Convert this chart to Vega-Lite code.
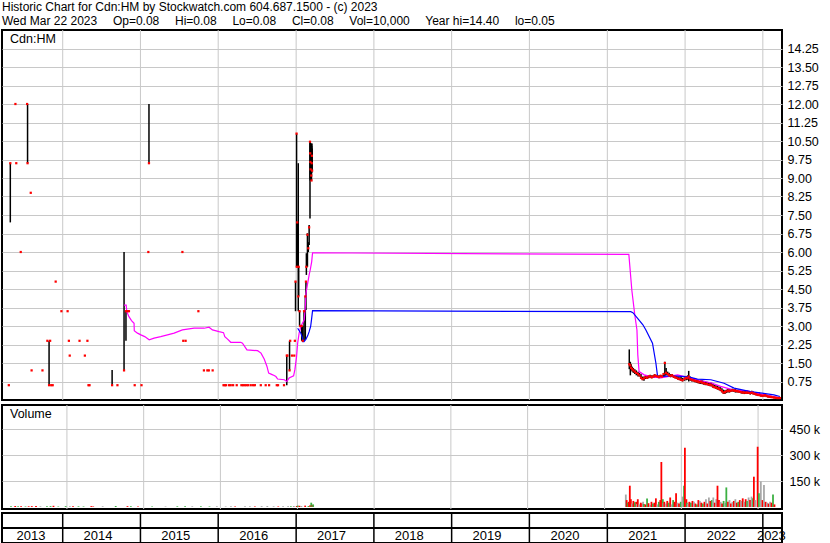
{
"$schema": "https://vega.github.io/schema/vega-lite/v6.json",
"background": "white",
"padding": {"left": 0, "top": 0, "right": 0, "bottom": 0},
"title": {"text": ["Historic Chart for Cdn:HM by Stockwatch.com 604.687.1500 - (c) 2023", "Wed Mar 22 2023\u00a0\u00a0\u00a0\u2009 Op=0.08\u00a0\u00a0\u00a0\u2009 Hi=0.08\u00a0\u00a0\u00a0\u2009 Lo=0.08\u00a0\u00a0\u00a0\u2009 Cl=0.08\u00a0\u00a0\u00a0\u2009 Vol=10,000\u00a0\u00a0\u00a0\u2009 Year hi=14.40\u00a0\u00a0\u00a0\u2009 lo=0.05"], "anchor": "start", "frame": "bounds", "font": "Liberation Sans", "fontSize": 12, "fontWeight": "normal", "lineHeight": 14, "offset": 1, "dx": 2, "color": "black"},
"config": {
  "view": {"stroke": "black", "strokeWidth": 2},
  "font": "Liberation Sans",
  "axis": {"gridColor": "#c8c8c8", "gridWidth": 1, "labelFont": "Liberation Sans", "labelColor": "black", "labelFontSize": 12.5, "domain": false, "ticks": false, "labelOverlap": false}
},
"datasets": {
  "ohlc": [
    {"d":"2013-04-23","h":0.6,"l":0.6,"c":0.6},
    {"d":"2013-04-30","h":9.6,"l":7.2,"c":9.6},
    {"d":"2013-05-24","h":12.0,"l":12.0,"c":12.0},
    {"d":"2013-05-28","h":9.6,"l":9.6,"c":9.6},
    {"d":"2013-06-18","h":6.0,"l":6.0,"c":6.0},
    {"d":"2013-07-18","h":12.0,"l":12.0,"c":12.0},
    {"d":"2013-07-20","h":12.0,"l":9.6,"c":9.6},
    {"d":"2013-08-04","h":8.4,"l":8.4,"c":8.4},
    {"d":"2013-08-08","h":1.2,"l":1.2,"c":1.2},
    {"d":"2013-09-28","h":1.2,"l":1.2,"c":1.2},
    {"d":"2013-10-21","h":2.4,"l":2.4,"c":2.4},
    {"d":"2013-10-29","h":2.4,"l":0.6,"c":0.6},
    {"d":"2013-11-03","h":2.4,"l":2.4,"c":2.4},
    {"d":"2013-11-08","h":0.6,"l":0.6,"c":0.6},
    {"d":"2013-11-15","h":0.6,"l":0.6,"c":0.6},
    {"d":"2013-11-29","h":4.8,"l":4.8,"c":4.8},
    {"d":"2013-12-26","h":3.6,"l":3.6,"c":3.6},
    {"d":"2014-01-24","h":3.6,"l":3.6,"c":3.6},
    {"d":"2014-01-30","h":2.4,"l":2.4,"c":2.4},
    {"d":"2014-02-03","h":1.8,"l":1.8,"c":1.8},
    {"d":"2014-03-21","h":2.4,"l":2.4,"c":2.4},
    {"d":"2014-04-15","h":1.8,"l":1.8,"c":1.8},
    {"d":"2014-04-27","h":2.4,"l":2.4,"c":2.4},
    {"d":"2014-05-02","h":0.6,"l":0.6,"c":0.6},
    {"d":"2014-05-07","h":0.6,"l":0.6,"c":0.6},
    {"d":"2014-08-21","h":1.22,"l":0.6,"c":0.6},
    {"d":"2014-09-15","h":0.6,"l":0.6,"c":0.6},
    {"d":"2014-10-16","h":6.0,"l":1.2,"c":1.2},
    {"d":"2014-10-25","h":3.6,"l":2.4,"c":3.6},
    {"d":"2014-11-01","h":3.6,"l":3.6,"c":3.6},
    {"d":"2014-11-08","h":3.6,"l":3.6,"c":3.6},
    {"d":"2014-12-05","h":0.6,"l":0.6,"c":0.6},
    {"d":"2015-01-06","h":0.6,"l":0.6,"c":0.6},
    {"d":"2015-02-07","h":6.0,"l":6.0,"c":6.0},
    {"d":"2015-02-10","h":12.0,"l":9.6,"c":9.6},
    {"d":"2015-07-17","h":6.0,"l":6.0,"c":6.0},
    {"d":"2015-07-21","h":2.4,"l":2.4,"c":2.4},
    {"d":"2015-08-01","h":2.4,"l":2.4,"c":2.4},
    {"d":"2015-09-30","h":3.6,"l":3.6,"c":3.6},
    {"d":"2015-10-26","h":1.2,"l":1.2,"c":1.2},
    {"d":"2015-11-11","h":1.2,"l":1.2,"c":1.2},
    {"d":"2015-11-18","h":1.2,"l":1.2,"c":1.2},
    {"d":"2015-12-06","h":1.2,"l":1.2,"c":1.2},
    {"d":"2016-01-26","h":0.6,"l":0.6,"c":0.6},
    {"d":"2016-02-01","h":0.6,"l":0.6,"c":0.6},
    {"d":"2016-02-07","h":0.6,"l":0.6,"c":0.6},
    {"d":"2016-02-21","h":0.6,"l":0.6,"c":0.6},
    {"d":"2016-02-29","h":0.6,"l":0.6,"c":0.6},
    {"d":"2016-03-11","h":0.6,"l":0.6,"c":0.6},
    {"d":"2016-03-28","h":0.6,"l":0.6,"c":0.6},
    {"d":"2016-04-19","h":0.6,"l":0.6,"c":0.6},
    {"d":"2016-04-27","h":0.6,"l":0.6,"c":0.6},
    {"d":"2016-05-05","h":0.6,"l":0.6,"c":0.6},
    {"d":"2016-05-13","h":0.6,"l":0.6,"c":0.6},
    {"d":"2016-05-21","h":0.6,"l":0.6,"c":0.6},
    {"d":"2016-06-02","h":0.6,"l":0.6,"c":0.6},
    {"d":"2016-06-13","h":0.6,"l":0.6,"c":0.6},
    {"d":"2016-06-21","h":0.6,"l":0.6,"c":0.6},
    {"d":"2016-07-19","h":0.6,"l":0.6,"c":0.6},
    {"d":"2016-08-11","h":0.6,"l":0.6,"c":0.6},
    {"d":"2016-08-27","h":0.6,"l":0.6,"c":0.6},
    {"d":"2016-10-02","h":0.6,"l":0.6,"c":0.6},
    {"d":"2016-10-08","h":0.6,"l":0.6,"c":0.6},
    {"d":"2016-11-05","h":0.6,"l":0.6,"c":0.6},
    {"d":"2016-11-18","h":1.8,"l":0.6,"c":1.8},
    {"d":"2016-11-21","h":1.8,"l":1.8,"c":1.8},
    {"d":"2016-12-01","h":2.4,"l":1.2,"c":1.2},
    {"d":"2016-12-04","h":2.4,"l":2.4,"c":2.4},
    {"d":"2016-12-12","h":1.8,"l":1.8,"c":1.8},
    {"d":"2016-12-23","h":1.8,"l":1.8,"c":1.8},
    {"d":"2016-12-26","h":2.4,"l":2.4,"c":2.4},
    {"d":"2016-12-29","h":4.8,"l":3.6,"c":4.8},
    {"d":"2017-01-03","h":10.8,"l":5.4,"c":10.8},
    {"d":"2017-01-04","h":7.2,"l":5.4,"c":5.4},
    {"d":"2017-01-06","h":7.2,"l":5.4,"c":7.2},
    {"d":"2017-01-11","h":9.6,"l":3.6,"c":4.2},
    {"d":"2017-01-13","h":5.4,"l":4.2,"c":5.4},
    {"d":"2017-01-17","h":3.6,"l":3.0,"c":3.6},
    {"d":"2017-01-20","h":3.0,"l":3.0,"c":3.0},
    {"d":"2017-01-27","h":3.0,"l":2.4,"c":3.0},
    {"d":"2017-02-01","h":3.0,"l":2.37,"c":2.4},
    {"d":"2017-02-07","h":3.6,"l":2.4,"c":3.6},
    {"d":"2017-02-13","h":4.2,"l":2.44,"c":4.2},
    {"d":"2017-02-16","h":4.8,"l":3.65,"c":4.8},
    {"d":"2017-02-18","h":5.95,"l":5.07,"c":5.4},
    {"d":"2017-02-23","h":6.76,"l":5.4,"c":6.7},
    {"d":"2017-02-27","h":6.4,"l":6.0,"c":6.15},
    {"d":"2017-03-03","h":7.09,"l":6.28,"c":7.0},
    {"d":"2017-03-07","h":10.47,"l":7.36,"c":10.47},
    {"d":"2017-03-08","h":10.47,"l":8.9,"c":10.0},
    {"d":"2017-03-09","h":10.4,"l":8.95,"c":9.65},
    {"d":"2017-03-10","h":10.3,"l":9.0,"c":9.35},
    {"d":"2017-03-13","h":10.2,"l":8.95,"c":9.1},
    {"d":"2017-03-14","h":10.4,"l":8.9,"c":8.9},
    {"d":"2017-03-15","h":10.3,"l":9.2,"c":9.6},
    {"d":"2017-03-16","h":10.4,"l":9.4,"c":9.9},
    {"d":"2017-03-17","h":10.2,"l":9.3,"c":9.3},
    {"d":"2021-04-14","h":2.05,"l":1.25,"c":1.45},
    {"d":"2021-04-19","h":1.55,"l":1.0,"c":1.4},
    {"d":"2021-04-23","h":1.45,"l":1.2,"c":1.3},
    {"d":"2021-04-28","h":1.35,"l":1.15,"c":1.25},
    {"d":"2021-05-03","h":1.3,"l":1.1,"c":1.2},
    {"d":"2021-05-10","h":1.25,"l":1.05,"c":1.15},
    {"d":"2021-05-17","h":1.2,"l":1.0,"c":1.1},
    {"d":"2021-05-25","h":1.15,"l":0.95,"c":1.05},
    {"d":"2021-06-01","h":1.1,"l":0.95,"c":1.0},
    {"d":"2021-06-08","h":1.05,"l":0.85,"c":0.9},
    {"d":"2021-06-15","h":0.95,"l":0.8,"c":0.85},
    {"d":"2021-06-22","h":0.95,"l":0.78,"c":0.88},
    {"d":"2021-06-29","h":1.0,"l":0.85,"c":0.92},
    {"d":"2021-07-07","h":0.98,"l":0.85,"c":0.9},
    {"d":"2021-07-14","h":1.0,"l":0.88,"c":0.95},
    {"d":"2021-07-21","h":1.02,"l":0.9,"c":0.96},
    {"d":"2021-07-28","h":1.0,"l":0.88,"c":0.92},
    {"d":"2021-08-04","h":1.0,"l":0.9,"c":0.95},
    {"d":"2021-08-11","h":1.05,"l":0.9,"c":1.0},
    {"d":"2021-08-18","h":1.02,"l":0.92,"c":0.97},
    {"d":"2021-08-25","h":1.0,"l":0.9,"c":0.95},
    {"d":"2021-09-01","h":1.0,"l":0.88,"c":0.93},
    {"d":"2021-09-08","h":1.02,"l":0.9,"c":0.98},
    {"d":"2021-09-15","h":1.0,"l":0.9,"c":0.95},
    {"d":"2021-09-22","h":1.1,"l":0.92,"c":1.05},
    {"d":"2021-09-28","h":1.55,"l":0.95,"c":1.5},
    {"d":"2021-10-04","h":1.3,"l":1.0,"c":1.1},
    {"d":"2021-10-11","h":1.15,"l":1.0,"c":1.05},
    {"d":"2021-10-18","h":1.1,"l":0.95,"c":1.0},
    {"d":"2021-10-25","h":1.05,"l":0.92,"c":0.98},
    {"d":"2021-11-01","h":1.05,"l":0.95,"c":1.0},
    {"d":"2021-11-08","h":1.0,"l":0.9,"c":0.95},
    {"d":"2021-11-15","h":1.0,"l":0.88,"c":0.92},
    {"d":"2021-11-22","h":0.98,"l":0.85,"c":0.9},
    {"d":"2021-11-29","h":0.95,"l":0.82,"c":0.86},
    {"d":"2021-12-06","h":0.92,"l":0.8,"c":0.85},
    {"d":"2021-12-13","h":0.95,"l":0.78,"c":0.82},
    {"d":"2021-12-20","h":0.9,"l":0.75,"c":0.8},
    {"d":"2021-12-29","h":0.92,"l":0.78,"c":0.85},
    {"d":"2022-01-06","h":0.95,"l":0.8,"c":0.9},
    {"d":"2022-01-13","h":1.0,"l":0.82,"c":0.88},
    {"d":"2022-01-18","h":1.18,"l":0.75,"c":0.95},
    {"d":"2022-01-25","h":0.95,"l":0.78,"c":0.85},
    {"d":"2022-02-01","h":0.9,"l":0.75,"c":0.82},
    {"d":"2022-02-08","h":0.88,"l":0.75,"c":0.8},
    {"d":"2022-02-15","h":0.85,"l":0.72,"c":0.78},
    {"d":"2022-02-23","h":0.85,"l":0.7,"c":0.76},
    {"d":"2022-03-02","h":0.82,"l":0.68,"c":0.75},
    {"d":"2022-03-09","h":0.8,"l":0.66,"c":0.72},
    {"d":"2022-03-16","h":0.82,"l":0.65,"c":0.74},
    {"d":"2022-03-23","h":0.8,"l":0.64,"c":0.7},
    {"d":"2022-03-30","h":0.78,"l":0.62,"c":0.68},
    {"d":"2022-04-06","h":0.75,"l":0.6,"c":0.66},
    {"d":"2022-04-13","h":0.74,"l":0.6,"c":0.65},
    {"d":"2022-04-21","h":0.72,"l":0.58,"c":0.62},
    {"d":"2022-04-28","h":0.72,"l":0.56,"c":0.62},
    {"d":"2022-05-05","h":0.7,"l":0.55,"c":0.6},
    {"d":"2022-05-12","h":0.66,"l":0.5,"c":0.55},
    {"d":"2022-05-19","h":0.62,"l":0.48,"c":0.52},
    {"d":"2022-05-26","h":0.6,"l":0.45,"c":0.5},
    {"d":"2022-06-02","h":0.58,"l":0.42,"c":0.48},
    {"d":"2022-06-09","h":0.55,"l":0.4,"c":0.45},
    {"d":"2022-06-16","h":0.52,"l":0.36,"c":0.42},
    {"d":"2022-06-23","h":0.48,"l":0.3,"c":0.36},
    {"d":"2022-06-30","h":0.42,"l":0.25,"c":0.3},
    {"d":"2022-07-07","h":0.4,"l":0.24,"c":0.32},
    {"d":"2022-07-14","h":0.42,"l":0.28,"c":0.35},
    {"d":"2022-07-21","h":0.45,"l":0.3,"c":0.38},
    {"d":"2022-07-28","h":0.44,"l":0.3,"c":0.36},
    {"d":"2022-08-04","h":0.44,"l":0.32,"c":0.38},
    {"d":"2022-08-11","h":0.46,"l":0.34,"c":0.4},
    {"d":"2022-08-18","h":0.45,"l":0.32,"c":0.38},
    {"d":"2022-08-25","h":0.44,"l":0.3,"c":0.37},
    {"d":"2022-09-01","h":0.42,"l":0.3,"c":0.36},
    {"d":"2022-09-08","h":0.42,"l":0.3,"c":0.35},
    {"d":"2022-09-15","h":0.4,"l":0.28,"c":0.33},
    {"d":"2022-09-22","h":0.38,"l":0.26,"c":0.32},
    {"d":"2022-09-29","h":0.37,"l":0.25,"c":0.3},
    {"d":"2022-10-06","h":0.36,"l":0.24,"c":0.3},
    {"d":"2022-10-13","h":0.36,"l":0.24,"c":0.29},
    {"d":"2022-10-20","h":0.38,"l":0.25,"c":0.3},
    {"d":"2022-10-27","h":0.35,"l":0.24,"c":0.29},
    {"d":"2022-11-03","h":0.36,"l":0.22,"c":0.28},
    {"d":"2022-11-10","h":0.38,"l":0.24,"c":0.3},
    {"d":"2022-11-17","h":0.34,"l":0.22,"c":0.27},
    {"d":"2022-11-24","h":0.32,"l":0.2,"c":0.25},
    {"d":"2022-12-01","h":0.3,"l":0.18,"c":0.23},
    {"d":"2022-12-08","h":0.28,"l":0.16,"c":0.21},
    {"d":"2022-12-15","h":0.3,"l":0.16,"c":0.2},
    {"d":"2022-12-22","h":0.26,"l":0.14,"c":0.18},
    {"d":"2022-12-29","h":0.24,"l":0.13,"c":0.17},
    {"d":"2023-01-05","h":0.24,"l":0.14,"c":0.18},
    {"d":"2023-01-12","h":0.25,"l":0.14,"c":0.19},
    {"d":"2023-01-19","h":0.22,"l":0.12,"c":0.16},
    {"d":"2023-01-26","h":0.2,"l":0.1,"c":0.14},
    {"d":"2023-02-02","h":0.18,"l":0.1,"c":0.13},
    {"d":"2023-02-09","h":0.17,"l":0.09,"c":0.12},
    {"d":"2023-02-16","h":0.15,"l":0.08,"c":0.11},
    {"d":"2023-02-23","h":0.14,"l":0.07,"c":0.1},
    {"d":"2023-03-02","h":0.13,"l":0.06,"c":0.09},
    {"d":"2023-03-09","h":0.12,"l":0.05,"c":0.08},
    {"d":"2023-03-16","h":0.1,"l":0.05,"c":0.08},
    {"d":"2023-03-22","h":0.08,"l":0.08,"c":0.08}
  ],
  "ma50": [
    {"d":"2014-10-16","v":3.85},{"d":"2014-10-26","v":3.85},{"d":"2014-10-29","v":3.58},{"d":"2014-11-08","v":3.38},
    {"d":"2014-11-20","v":3.22},{"d":"2014-12-02","v":3.11},{"d":"2014-12-03","v":2.81},{"d":"2014-12-18","v":2.71},
    {"d":"2015-01-03","v":2.64},{"d":"2015-01-21","v":2.57},{"d":"2015-02-11","v":2.44},{"d":"2015-03-06","v":2.51},
    {"d":"2015-04-06","v":2.57},{"d":"2015-05-08","v":2.64},{"d":"2015-06-08","v":2.71},{"d":"2015-07-17","v":2.84},
    {"d":"2015-09-10","v":2.91},{"d":"2015-10-27","v":2.91},{"d":"2015-11-19","v":2.95},{"d":"2015-12-05","v":2.84},
    {"d":"2016-01-05","v":2.77},{"d":"2016-01-26","v":2.73},{"d":"2016-02-01","v":2.57},{"d":"2016-02-14","v":2.47},
    {"d":"2016-02-29","v":2.34},{"d":"2016-04-16","v":2.34},{"d":"2016-04-24","v":2.3},{"d":"2016-05-15","v":2.03},
    {"d":"2016-07-04","v":2.0},{"d":"2016-07-20","v":1.9},{"d":"2016-08-04","v":1.66},{"d":"2016-08-17","v":1.36},
    {"d":"2016-08-25","v":1.09},{"d":"2016-09-13","v":1.02},{"d":"2016-09-28","v":0.95},{"d":"2016-10-06","v":0.85},
    {"d":"2016-11-06","v":0.82},{"d":"2016-11-18","v":0.75},{"d":"2016-11-29","v":0.89},{"d":"2016-12-20","v":0.98},
    {"d":"2016-12-26","v":1.23},{"d":"2017-01-03","v":1.76},{"d":"2017-01-08","v":2.3},{"d":"2017-01-15","v":2.71},
    {"d":"2017-01-23","v":2.98},{"d":"2017-02-08","v":3.25},{"d":"2017-02-13","v":3.79},{"d":"2017-02-16","v":4.33},
    {"d":"2017-02-24","v":4.73},{"d":"2017-03-03","v":5.07},{"d":"2017-03-08","v":5.27},{"d":"2017-03-15","v":5.61},
    {"d":"2017-03-19","v":5.97},{"d":"2021-04-12","v":5.9},{"d":"2021-04-26","v":4.45},{"d":"2021-05-10","v":3.44},
    {"d":"2021-05-20","v":2.84},{"d":"2021-05-24","v":1.83},{"d":"2021-05-30","v":1.15},{"d":"2021-06-23","v":1.02},
    {"d":"2021-07-24","v":0.95},{"d":"2021-09-09","v":0.9},{"d":"2021-10-11","v":0.95},{"d":"2021-11-27","v":1.02},
    {"d":"2021-12-28","v":0.95},{"d":"2022-02-12","v":0.85},{"d":"2022-03-16","v":0.78},{"d":"2022-05-02","v":0.7},
    {"d":"2022-06-17","v":0.55},{"d":"2022-08-19","v":0.4},{"d":"2022-10-20","v":0.37},{"d":"2022-12-21","v":0.24},
    {"d":"2023-03-22","v":0.09}
  ],
  "ma200": [
    {"d":"2017-01-08","v":2.91},{"d":"2017-01-23","v":2.71},{"d":"2017-01-31","v":2.51},{"d":"2017-02-01","v":2.37},
    {"d":"2017-02-07","v":2.37},{"d":"2017-02-16","v":2.47},{"d":"2017-02-24","v":2.6},{"d":"2017-03-03","v":2.77},
    {"d":"2017-03-10","v":2.98},{"d":"2017-03-14","v":3.25},{"d":"2017-03-19","v":3.62},{"d":"2021-04-21","v":3.58},
    {"d":"2021-05-01","v":3.54},{"d":"2021-05-29","v":3.25},{"d":"2021-06-17","v":3.05},{"d":"2021-07-01","v":2.84},
    {"d":"2021-08-01","v":2.3},{"d":"2021-08-17","v":1.49},{"d":"2021-08-25","v":0.95},{"d":"2021-10-26","v":0.98},
    {"d":"2022-01-13","v":0.95},{"d":"2022-02-28","v":0.85},{"d":"2022-05-02","v":0.82},{"d":"2022-07-03","v":0.68},
    {"d":"2022-08-19","v":0.48},{"d":"2022-11-04","v":0.34},{"d":"2023-02-22","v":0.21},{"d":"2023-03-22","v":0.14}
  ],
  "vol": [
    {"d":"2013-04-10","v":5000,"k":"up"},{"d":"2013-04-30","v":6000,"k":"down"},{"d":"2013-05-14","v":4000,"k":"up"},{"d":"2013-05-28","v":4000,"k":"down"},
    {"d":"2013-06-18","v":3000,"k":"up"},{"d":"2013-07-03","v":4000,"k":"down"},{"d":"2013-07-18","v":5000,"k":"down"},{"d":"2013-08-07","v":6000,"k":"down"},
    {"d":"2013-08-28","v":4000,"k":"flat"},{"d":"2013-09-28","v":4000,"k":"up"},{"d":"2013-10-15","v":5000,"k":"up"},{"d":"2013-10-29","v":7000,"k":"down"},{"d":"2013-11-21","v":3000,"k":"up"},
    {"d":"2013-12-26","v":5000,"k":"up"},{"d":"2014-01-15","v":4000,"k":"flat"},{"d":"2014-01-30","v":4000,"k":"down"},{"d":"2014-02-25","v":4000,"k":"up"},{"d":"2014-03-21","v":3000,"k":"up"},
    {"d":"2014-04-27","v":5000,"k":"down"},{"d":"2014-05-06","v":3000,"k":"down"},{"d":"2014-06-20","v":4000,"k":"flat"},{"d":"2014-08-21","v":6000,"k":"up"},
    {"d":"2014-10-16","v":5000,"k":"down"},{"d":"2014-11-01","v":4000,"k":"up"},{"d":"2014-12-05","v":3000,"k":"down"},
    {"d":"2015-02-10","v":3000,"k":"up"},{"d":"2015-04-15","v":3000,"k":"flat"},{"d":"2015-06-10","v":4000,"k":"up"},{"d":"2015-07-17","v":5000,"k":"up"},
    {"d":"2015-08-20","v":4000,"k":"flat"},{"d":"2015-09-30","v":4000,"k":"up"},{"d":"2015-11-10","v":3000,"k":"up"},{"d":"2015-12-15","v":4000,"k":"flat"},{"d":"2016-01-26","v":3000,"k":"flat"},
    {"d":"2016-02-20","v":4000,"k":"flat"},{"d":"2016-03-11","v":3000,"k":"down"},{"d":"2016-04-27","v":4000,"k":"flat"},{"d":"2016-05-20","v":4000,"k":"flat"},{"d":"2016-06-13","v":3000,"k":"down"},
    {"d":"2016-07-15","v":5000,"k":"flat"},{"d":"2016-08-11","v":6000,"k":"flat"},{"d":"2016-09-10","v":4000,"k":"flat"},{"d":"2016-10-02","v":3000,"k":"down"},{"d":"2016-10-25","v":5000,"k":"flat"},{"d":"2016-11-18","v":5000,"k":"flat"},
    {"d":"2016-12-01","v":4000,"k":"up"},{"d":"2016-12-15","v":6000,"k":"flat"},{"d":"2016-12-29","v":6000,"k":"down"},{"d":"2017-01-03","v":8000,"k":"up"},
    {"d":"2017-01-11","v":7000,"k":"down"},{"d":"2017-01-20","v":6000,"k":"flat"},{"d":"2017-02-07","v":8000,"k":"down"},
    {"d":"2017-02-23","v":6000,"k":"up"},{"d":"2017-03-03","v":10000,"k":"down"},{"d":"2017-03-08","v":25000,"k":"up"},
    {"d":"2017-03-14","v":12000,"k":"down"},{"d":"2017-03-17","v":15000,"k":"up"},
    {"d":"2021-04-12","v":72000,"k":"flat"},{"d":"2021-04-16","v":40000,"k":"down"},{"d":"2021-04-21","v":25000,"k":"up"},
    {"d":"2021-04-26","v":30000,"k":"down"},{"d":"2021-05-01","v":123000,"k":"down"},{"d":"2021-05-06","v":45000,"k":"down"},
    {"d":"2021-05-12","v":20000,"k":"flat"},{"d":"2021-05-18","v":35000,"k":"down"},{"d":"2021-05-25","v":28000,"k":"up"},
    {"d":"2021-06-01","v":30000,"k":"down"},{"d":"2021-06-04","v":18000,"k":"flat"},{"d":"2021-06-08","v":45000,"k":"down"},{"d":"2021-06-15","v":15000,"k":"flat"},
    {"d":"2021-06-22","v":25000,"k":"down"},{"d":"2021-06-29","v":20000,"k":"down"},{"d":"2021-07-03","v":30000,"k":"flat"},{"d":"2021-07-07","v":18000,"k":"up"},
    {"d":"2021-07-14","v":15000,"k":"down"},{"d":"2021-07-22","v":49000,"k":"up"},{"d":"2021-07-29","v":22000,"k":"down"},
    {"d":"2021-08-05","v":12000,"k":"flat"},{"d":"2021-08-12","v":30000,"k":"down"},{"d":"2021-08-19","v":20000,"k":"up"},
    {"d":"2021-08-26","v":25000,"k":"down"},{"d":"2021-09-02","v":50000,"k":"down"},{"d":"2021-09-09","v":15000,"k":"flat"},
    {"d":"2021-09-16","v":30000,"k":"up"},{"d":"2021-09-23","v":40000,"k":"down"},{"d":"2021-09-28","v":260000,"k":"down"},
    {"d":"2021-10-05","v":45000,"k":"up"},{"d":"2021-10-08","v":22000,"k":"flat"},{"d":"2021-10-12","v":30000,"k":"down"},{"d":"2021-10-19","v":20000,"k":"flat"},
    {"d":"2021-10-26","v":35000,"k":"down"},{"d":"2021-11-02","v":25000,"k":"up"},{"d":"2021-11-09","v":55000,"k":"down"},
    {"d":"2021-11-16","v":15000,"k":"flat"},{"d":"2021-11-23","v":40000,"k":"up"},{"d":"2021-11-30","v":30000,"k":"down"},
    {"d":"2021-12-07","v":79000,"k":"down"},{"d":"2021-12-14","v":25000,"k":"flat"},{"d":"2021-12-21","v":20000,"k":"down"},
    {"d":"2021-12-29","v":30000,"k":"up"},{"d":"2022-01-07","v":60000,"k":"flat"},{"d":"2022-01-14","v":123000,"k":"up"},
    {"d":"2022-01-18","v":342000,"k":"down"},{"d":"2022-01-25","v":45000,"k":"down"},{"d":"2022-01-28","v":25000,"k":"up"},{"d":"2022-02-01","v":20000,"k":"flat"},
    {"d":"2022-02-08","v":30000,"k":"down"},{"d":"2022-02-15","v":25000,"k":"up"},{"d":"2022-02-23","v":35000,"k":"down"},
    {"d":"2022-03-02","v":30000,"k":"flat"},{"d":"2022-03-09","v":20000,"k":"down"},{"d":"2022-03-16","v":15000,"k":"up"},
    {"d":"2022-03-23","v":40000,"k":"down"},{"d":"2022-03-30","v":35000,"k":"flat"},{"d":"2022-04-06","v":25000,"k":"down"},
    {"d":"2022-04-13","v":20000,"k":"up"},{"d":"2022-04-21","v":30000,"k":"down"},{"d":"2022-04-28","v":45000,"k":"flat"},
    {"d":"2022-05-05","v":20000,"k":"down"},{"d":"2022-05-12","v":55000,"k":"flat"},{"d":"2022-05-19","v":35000,"k":"down"},
    {"d":"2022-05-26","v":40000,"k":"up"},{"d":"2022-06-02","v":55000,"k":"flat"},{"d":"2022-06-09","v":25000,"k":"down"},
    {"d":"2022-06-16","v":45000,"k":"flat"},{"d":"2022-06-22","v":123000,"k":"down"},{"d":"2022-06-29","v":40000,"k":"down"},
    {"d":"2022-07-07","v":30000,"k":"flat"},{"d":"2022-07-14","v":20000,"k":"down"},{"d":"2022-07-21","v":35000,"k":"up"},
    {"d":"2022-07-28","v":25000,"k":"flat"},{"d":"2022-08-03","v":113000,"k":"up"},{"d":"2022-08-11","v":30000,"k":"down"},
    {"d":"2022-08-18","v":40000,"k":"flat"},{"d":"2022-08-25","v":20000,"k":"down"},{"d":"2022-09-01","v":30000,"k":"flat"},
    {"d":"2022-09-08","v":35000,"k":"down"},{"d":"2022-09-15","v":45000,"k":"flat"},{"d":"2022-09-22","v":25000,"k":"down"},
    {"d":"2022-09-29","v":30000,"k":"up"},{"d":"2022-10-06","v":40000,"k":"down"},{"d":"2022-10-13","v":35000,"k":"flat"},
    {"d":"2022-10-20","v":50000,"k":"down"},{"d":"2022-10-27","v":30000,"k":"flat"},{"d":"2022-11-03","v":45000,"k":"down"},
    {"d":"2022-11-10","v":35000,"k":"up"},{"d":"2022-11-17","v":55000,"k":"flat"},{"d":"2022-11-24","v":40000,"k":"down"},
    {"d":"2022-12-01","v":60000,"k":"flat"},{"d":"2022-12-08","v":50000,"k":"up"},{"d":"2022-12-12","v":175000,"k":"down"},
    {"d":"2022-12-19","v":40000,"k":"flat"},{"d":"2022-12-30","v":348000,"k":"down"},{"d":"2023-01-05","v":80000,"k":"up"},
    {"d":"2023-01-14","v":148000,"k":"flat"},{"d":"2023-01-22","v":40000,"k":"down"},{"d":"2023-01-29","v":127000,"k":"flat"},
    {"d":"2023-02-06","v":30000,"k":"down"},{"d":"2023-02-13","v":25000,"k":"flat"},{"d":"2023-02-20","v":20000,"k":"down"},
    {"d":"2023-02-27","v":30000,"k":"flat"},{"d":"2023-03-06","v":25000,"k":"down"},{"d":"2023-03-13","v":72000,"k":"up"},
    {"d":"2023-03-20","v":15000,"k":"down"}
  ],
  "years": [
    {"d":"2013-08-05","y":"2013"},{"d":"2014-06-16","y":"2014"},{"d":"2015-06-16","y":"2015"},{"d":"2016-06-16","y":"2016"},
    {"d":"2017-06-16","y":"2017"},{"d":"2018-06-16","y":"2018"},{"d":"2019-06-16","y":"2019"},{"d":"2020-06-16","y":"2020"},
    {"d":"2021-06-16","y":"2021"},{"d":"2022-06-20","y":"2022"},{"d":"2023-02-10","y":"2023"}
  ],
  "yearlines": [
    {"d":"2014-01-01"},{"d":"2015-01-01"},{"d":"2016-01-01"},{"d":"2017-01-01"},{"d":"2018-01-01"},
    {"d":"2019-01-01"},{"d":"2020-01-01"},{"d":"2021-01-01"},{"d":"2022-01-01"},{"d":"2023-01-01"}
  ]
},
"spacing": 1,
"vconcat": [
  {
    "width": 780, "height": 370,
    "title": {"text": "Cdn:HM", "anchor": "start", "frame": "group", "orient": "top", "offset": -16, "dx": 8, "fontSize": 12.5, "fontWeight": "normal", "font": "Liberation Sans", "color": "black"},
    "encoding": {
      "x": {"field": "d", "type": "temporal", "scale": {"domain": ["2013-03-22", "2023-04-01"]}, "axis": null}
    },
    "layer": [
      {"data": {"name": "yearlines"}, "mark": {"type": "rule", "color": "#c8c8c8", "strokeWidth": 1}, "encoding": {}},
      {"data": {"name": "ohlc"}, "mark": {"type": "rule", "color": "black", "strokeWidth": 1.5},
       "encoding": {"y": {"field": "l", "type": "quantitative", "scale": {"domain": [0, 15], "nice": false},
                          "axis": {"orient": "right", "title": null, "grid": true, "format": ".2f", "labelPadding": 5, "tickCount": 20, "labelOverlap": false,
                                   "values": [0.75,1.5,2.25,3,3.75,4.5,5.25,6,6.75,7.5,8.25,9,9.75,10.5,11.25,12,12.75,13.5,14.25]}},
                    "y2": {"field": "h"}}},
      {"data": {"name": "ma50"}, "mark": {"type": "line", "color": "#ff00ff", "strokeWidth": 1.2},
       "encoding": {"y": {"field": "v", "type": "quantitative"}}},
      {"data": {"name": "ma200"}, "mark": {"type": "line", "color": "#0000ff", "strokeWidth": 1.2},
       "encoding": {"y": {"field": "v", "type": "quantitative"}}},
      {"data": {"name": "ohlc"}, "mark": {"type": "point", "shape": "square", "filled": true, "color": "#ff0000", "size": 5, "opacity": 1},
       "encoding": {"y": {"field": "c", "type": "quantitative"}}}
    ]
  },
  {
    "spacing": 0,
    "vconcat": [
      {
        "width": 780, "height": 104,
        "title": {"text": "Volume", "anchor": "start", "frame": "group", "orient": "top", "offset": -16, "dx": 8, "fontSize": 12.5, "fontWeight": "normal", "font": "Liberation Sans", "color": "black"},
        "encoding": {
          "x": {"field": "d", "type": "temporal", "scale": {"domain": ["2013-03-22", "2023-04-01"]}, "axis": null}
        },
        "layer": [
          {"data": {"name": "yearlines"}, "mark": {"type": "rule", "color": "#c8c8c8", "strokeWidth": 1}, "encoding": {}},
          {"data": {"name": "vol"}, "mark": {"type": "bar", "size": 1.8},
           "encoding": {"y": {"field": "v", "type": "quantitative", "scale": {"domain": [-11500, 589000], "nice": false, "zero": false},
                              "axis": {"orient": "right", "title": null, "grid": true, "labelPadding": 7, "values": [150000, 300000, 450000], "tickCount": 5,
                                       "labelExpr": "format(datum.value/1000, 'd') + ' k'"}},
                        "color": {"field": "k", "type": "nominal", "legend": null,
                                  "scale": {"domain": ["down", "up", "flat"], "range": ["#ff0000", "#3cb043", "#a8a8a8"]}}}}
        ]
      },
      {
        "width": 780, "height": 30,
        "layer": [
          {"data": {"name": "yearlines"}, "mark": {"type": "rule", "color": "black", "strokeWidth": 1.5},
           "encoding": {"x": {"field": "d", "type": "temporal", "scale": {"domain": ["2013-03-22", "2023-04-01"]}, "axis": null},
                        "y": {"datum": 0, "type": "quantitative", "scale": {"domain": [0, 2], "nice": false}, "axis": null}, "y2": {"datum": 2}}},
          {"data": {"values": [{"lab": "mid"}]}, "mark": {"type": "rule", "color": "black", "strokeWidth": 2},
           "encoding": {"y": {"datum": 1, "type": "quantitative"}}},
          {"data": {"name": "years"}, "mark": {"type": "text", "align": "center", "baseline": "middle", "fontSize": 13, "font": "Liberation Sans", "color": "black"},
           "encoding": {"x": {"field": "d", "type": "temporal"}, "y": {"datum": 0.5, "type": "quantitative"}, "text": {"field": "y", "type": "nominal"}}}
        ]
      }
    ]
  }
]
}
